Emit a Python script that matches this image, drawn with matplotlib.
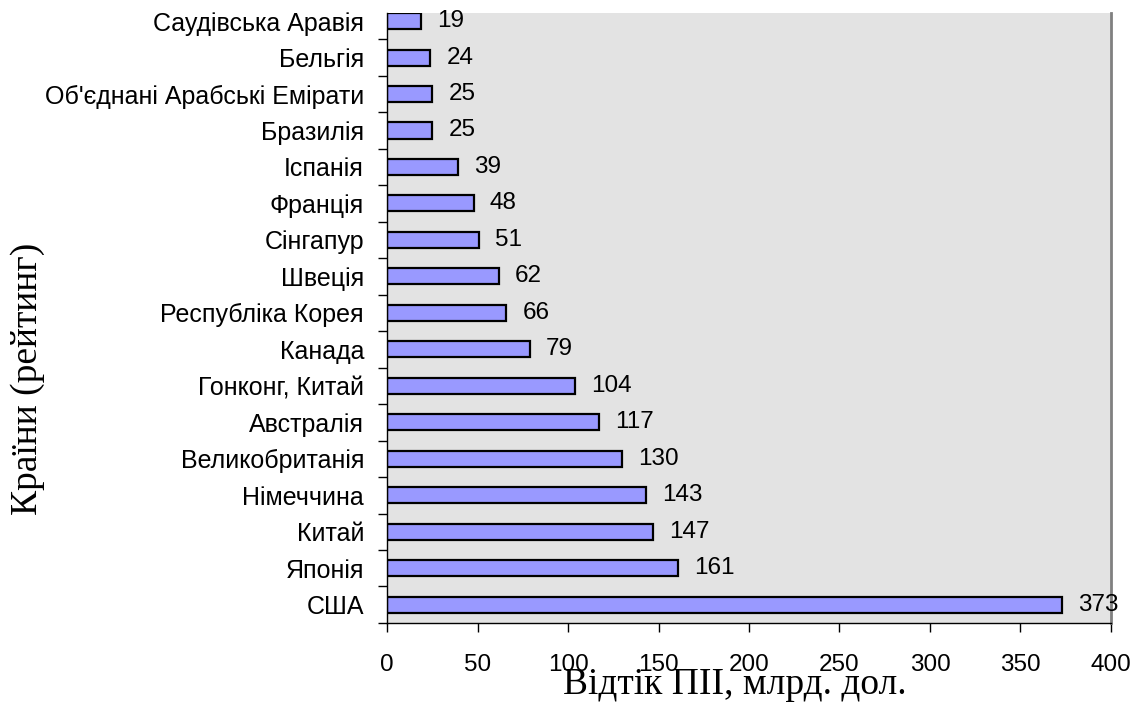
import matplotlib
matplotlib.use("Agg")
import matplotlib.pyplot as plt

# countries from top of the chart to bottom
countries = ["Саудівська Аравія", "Бельгія", "Об'єднані Арабські Емірати",
             "Бразилія", "Іспанія", "Франція", "Сінгапур", "Швеція",
             "Республіка Корея", "Канада", "Гонконг, Китай", "Австралія",
             "Великобританія", "Німеччина", "Китай", "Японія", "США"]
outflow = [19, 24, 25, 25, 39, 48, 51, 62, 66, 79, 104, 117, 130, 143, 147, 161, 373]
xticks = [0, 50, 100, 150, 200, 250, 300, 350, 400]

sans = "Liberation Sans"
serif = "Liberation Serif"

fig = plt.figure(figsize=(11.37, 7.04), dpi=100)
ax = fig.add_axes([0.3404, 0.1151, 0.6367, 0.8664])
ax.set_facecolor("#e3e3e3")

# bottom bar = США at y=0
n = len(countries)
ypos = [n - 1 - i for i in range(n)]
ax.barh(ypos, outflow, height=0.44, color="#9999ff", edgecolor="black", linewidth=1.6)

for y, v in zip(ypos, outflow):
    ax.annotate(str(v), (v, y), xytext=(11.5, 0), textcoords="offset points",
                va="center", ha="left", fontsize=17.5, family=sans)

ax.set_xlim(0, 400)
ax.set_ylim(-0.5, n - 0.78)

ax.set_xticks(xticks)
ax.set_xticklabels([str(t) for t in xticks], fontsize=17.5, family=sans)
ax.tick_params(axis="x", direction="out", length=6.5, width=1, pad=16)

ax.set_yticks(ypos)
ax.set_yticklabels(countries, fontsize=18, family=sans)
ax.set_yticks([k + 0.5 for k in range(-1, n - 1)], minor=True)
ax.tick_params(axis="y", which="major", length=0, pad=16.5)
ax.tick_params(axis="y", which="minor", direction="out", length=6.5, width=1)

ax.spines["top"].set_visible(False)
ax.spines["right"].set_color("#808080")
ax.spines["right"].set_linewidth(2)
ax.spines["left"].set_linewidth(1)
ax.spines["bottom"].set_linewidth(1)

ax.set_xlabel("Відтік ПІІ, млрд. дол.", fontsize=27, family=serif, va="center")
ax.xaxis.set_label_coords(0.48, -0.102)
ax.set_ylabel("Країни (рейтинг)", fontsize=27, family=serif, va="center")
ax.yaxis.set_label_coords(-0.496, 0.40)

fig.savefig("out.png", dpi=100)
